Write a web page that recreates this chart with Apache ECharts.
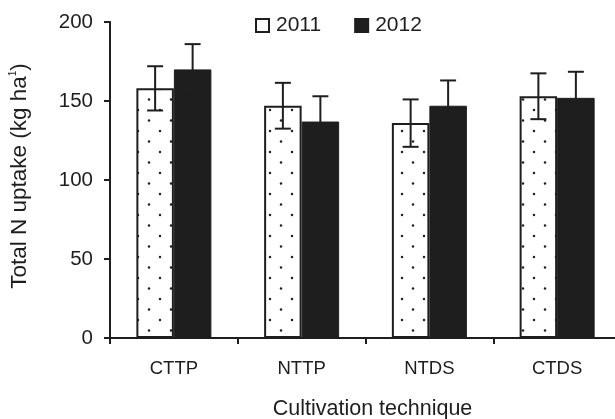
<!DOCTYPE html>
<html>
<head>
<meta charset="utf-8">
<script src="https://cdn.jsdelivr.net/npm/echarts@6/dist/echarts.min.js"></script>
<style>
html,body{margin:0;padding:0;background:#fff;}
#chart{width:615px;height:419px;}
</style>
</head>
<body>
<div id="chart"></div>
<script>
const categories = ['CTTP', 'NTTP', 'NTDS', 'CTDS'];
const values2011 = [158, 147, 136, 153];
const err2011 = [14, 14.5, 15, 14.5];
const values2012 = [170, 137, 147, 152];
const err2012 = [16, 16, 16, 16.5];
const yTicks = [0, 50, 100, 150, 200];

const FONT = '"Liberation Sans", Arial, Helvetica, sans-serif';
const INK = '#1e1e1e';
const BAR_W = 37.5;

// dotted fill pattern for the 2011 bars
const patCanvas = document.createElement('canvas');
patCanvas.width = 22; patCanvas.height = 21;
(function () {
  const c = patCanvas.getContext('2d');
  c.fillStyle = '#fff';
  c.fillRect(0, 0, 22, 21);
  c.fillStyle = '#222';
  c.beginPath(); c.arc(6, 5, 1.25, 0, Math.PI * 2); c.fill();
  c.beginPath(); c.arc(17, 15.5, 1.25, 0, Math.PI * 2); c.fill();
})();

function errSeries(name, vals, errs, side) {
  return {
    type: 'custom',
    name: name + ' err',
    z: 5,
    silent: true,
    data: vals.map((v, i) => [i, v, errs[i]]),
    renderItem: function (params, api) {
      const i = api.value(0), v = api.value(1), e = api.value(2);
      const top = api.coord([i, v + e]);
      const bot = api.coord([i, v - e]);
      const x = top[0] + side * BAR_W / 2;
      const cap = 8;
      const style = { stroke: INK, lineWidth: 2 };
      return {
        type: 'group',
        children: [
          { type: 'line', shape: { x1: x, y1: top[1], x2: x, y2: bot[1] }, style: style },
          { type: 'line', shape: { x1: x - cap, y1: top[1], x2: x + cap, y2: top[1] }, style: style },
          { type: 'line', shape: { x1: x - cap, y1: bot[1], x2: x + cap, y2: bot[1] }, style: style }
        ]
      };
    }
  };
}

const chart = echarts.init(document.getElementById('chart'), null, { renderer: 'canvas' });
chart.setOption({
  animation: false,
  backgroundColor: '#fff',
  textStyle: { fontFamily: FONT, color: INK },
  legend: {
    top: 15,
    left: 255,
    padding: 0,
    itemWidth: 13,
    itemHeight: 13,
    itemGap: 33,
    icon: 'rect',
    textStyle: { fontFamily: FONT, fontSize: 21, color: INK, padding: [0, 0, 0, 2] },
    data: [
      { name: '2011', itemStyle: { color: '#fff', borderColor: INK, borderWidth: 2 } },
      { name: '2012', itemStyle: { color: INK } }
    ]
  },
  grid: { left: 110, top: 22, bottom: 81, right: -6, containLabel: false, outerBoundsMode: 'none' },
  xAxis: {
    type: 'category',
    data: categories,
    axisLine: { lineStyle: { color: INK, width: 2 } },
    axisTick: { show: true, length: 6, lineStyle: { color: INK, width: 2 } },
    axisLabel: { fontFamily: FONT, fontSize: 18.5, color: INK, margin: 21 },
    name: 'Cultivation technique',
    nameLocation: 'middle',
    nameGap: 60,
    nameTextStyle: { fontFamily: FONT, fontSize: 21.5, color: INK, padding: [0, 0, 0, 14] }
  },
  yAxis: {
    type: 'value',
    min: 0, max: 200, interval: 50,
    axisLine: { show: true, lineStyle: { color: INK, width: 2 } },
    axisTick: { show: true, length: 6, lineStyle: { color: INK, width: 2 } },
    splitLine: { show: false },
    axisLabel: {
      fontFamily: FONT, fontSize: 20.5, color: INK, margin: 17,
      formatter: function (v) { return yTicks.indexOf(v) >= 0 ? String(v) : ''; }
    },
    name: 'Total N uptake (kg ha{sup|1})',
    nameLocation: 'middle',
    nameGap: 79,
    nameRotate: 90,
    nameTextStyle: {
      fontFamily: FONT, fontSize: 22.5, color: INK, padding: [0, 0, 0, 8],
      rich: { sup: { fontFamily: FONT, fontSize: 10, color: INK, verticalAlign: 'top', padding: [0, 0, 11, 0] } }
    }
  },
  series: [
    {
      name: '2011',
      type: 'bar',
      barWidth: BAR_W,
      barGap: '0%',
      data: values2011,
      itemStyle: {
        color: { image: patCanvas, repeat: 'repeat' },
        borderColor: INK,
        borderWidth: 2
      }
    },
    {
      name: '2012',
      type: 'bar',
      barWidth: BAR_W,
      barGap: '0%',
      data: values2012,
      itemStyle: { color: INK, borderColor: INK, borderWidth: 1 }
    },
    errSeries('2011', values2011, err2011, -1),
    errSeries('2012', values2012, err2012, 1)
  ]
});
</script>
</body>
</html>
